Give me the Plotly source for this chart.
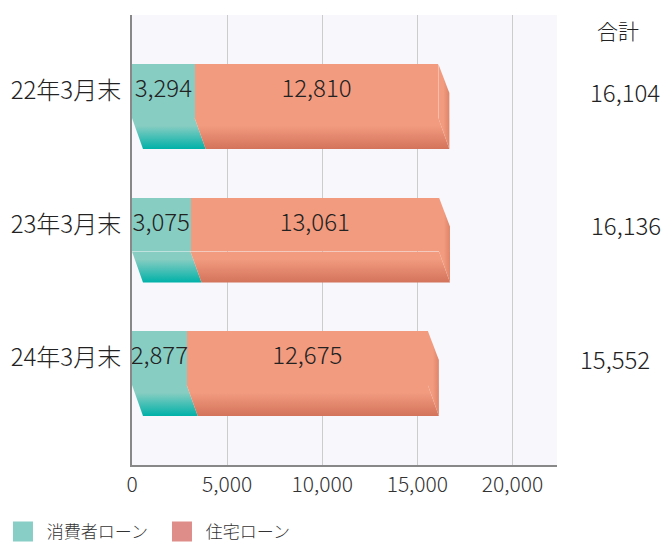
import plotly.graph_objects as go

# ---- data ----
categories = ["22年3月末", "23年3月末", "24年3月末"]
consumer = [3294, 3075, 2877]        # 消費者ローン
housing = [12810, 13061, 12675]      # 住宅ローン
totals = [16104, 16136, 15552]       # 合計
series_names = ["消費者ローン", "住宅ローン"]
x_ticks = [0, 5000, 10000, 15000, 20000]

# ---- style ----
FONT = "Noto Sans CJK JP"
W = 300
teal_face, teal_dark = "#88cdc2", "#00b1a8"
salmon_face, salmon_dark, salmon_side = "#f29b7f", "#d3735b", "#df8468"
legend_cols = ["#88cdc6", "#df8d89"]

XMAX = 22340
ypos = list(range(len(categories)))
HALF = 0.202      # half height of bar face (category units)
UNDER = 0.232     # depth of underside (category units)
SIDE_DROP = 0.217 # slant drop of right end
DX = 578          # horizontal depth offset (value units)

fig = go.Figure()

# front faces (bars)
fig.add_trace(go.Bar(y=ypos, x=consumer, base=[0] * 3, orientation="h", width=2 * HALF,
                     marker=dict(color=teal_face, line=dict(width=0)), showlegend=False,
                     hoverinfo="skip"))
fig.add_trace(go.Bar(y=ypos, x=housing, base=consumer, orientation="h", width=2 * HALF,
                     marker=dict(color=salmon_face, line=dict(width=0)), showlegend=False,
                     hoverinfo="skip"))

# 3D parts: undersides and right side faces
for i, y in enumerate(ypos):
    yt, yf, yb = y - HALF, y + HALF, y + HALF + UNDER
    segs = [(0, consumer[i], teal_face, teal_dark),
            (consumer[i], consumer[i] + housing[i], salmon_face, salmon_dark)]
    for x0, x1, c1, c2 in segs:
        fig.add_trace(go.Scatter(
            x=[x0, x1, x1 + DX, x0 + DX, x0], y=[yf, yf, yb, yb, yf],
            mode="lines", fill="toself", line=dict(width=0, color=c1),
            fillcolor=c1,
            fillgradient=dict(type="vertical", start=yf, stop=yb,
                              colorscale=[[0, c1], [0.25, c1], [1, c2]]),
            showlegend=False, hoverinfo="skip"))
    xe = consumer[i] + housing[i]
    fig.add_trace(go.Scatter(
        x=[xe, xe + DX, xe + DX, xe, xe], y=[yt, yt + SIDE_DROP, yb, yf, yt],
        mode="lines", fill="toself", line=dict(width=0, color=salmon_side),
        fillcolor=salmon_side,
        fillgradient=dict(type="horizontal", start=xe, stop=xe + DX,
                          colorscale=[[0, salmon_face], [0.45, salmon_face], [1, salmon_side]]),
        showlegend=False, hoverinfo="skip"))

# value labels
txtfont = dict(family=FONT, size=24, color="#222222", weight=W)
fig.add_trace(go.Scatter(
    x=[c / 2 for c in consumer], y=ypos, mode="text",
    text=[f"{v:,}" for v in consumer], textposition="middle center",
    textfont=txtfont, showlegend=False, hoverinfo="skip", cliponaxis=False))
fig.add_trace(go.Scatter(
    x=[c + h / 2 for c, h in zip(consumer, housing)], y=ypos, mode="text",
    text=[f"{v:,}" for v in housing], textposition="middle center",
    textfont=txtfont, showlegend=False, hoverinfo="skip", cliponaxis=False))

# legend entries
for name, col in zip(series_names, legend_cols):
    fig.add_trace(go.Scatter(
        x=[None], y=[None], mode="markers", name="\u00a0" + name,
        marker=dict(symbol="square", size=16, color=col, line=dict(width=4, color=col))))

# totals (positioned from the data, expressed as paper fraction)
for y, t in zip(ypos, totals):
    fig.add_annotation(x=(t + 11760) / XMAX, y=y, xref="paper", yref="y", text=f"{t:,}",
                       showarrow=False, xanchor="right", yanchor="middle",
                       font=txtfont)
fig.add_annotation(x=1.1447, y=0.9667, xref="paper", yref="paper", text="合計",
                   showarrow=False, xanchor="center", yanchor="middle",
                   font=dict(family=FONT, size=21, color="#222222", weight=W))

fig.update_layout(
    width=661, height=543,
    margin=dict(l=132, r=103.5, t=15, b=78),
    paper_bgcolor="white", plot_bgcolor="#f7f7fc",
    font=dict(family=FONT, color="#333333"),
    barmode="overlay", bargap=0,
    showlegend=True,
    legend=dict(orientation="h", xref="container", yref="container",
                x=0.0045, xanchor="left", y=0.0202, yanchor="middle",
                font=dict(family=FONT, size=17, color="#333333", weight=W),
                entrywidth=114, entrywidthmode="pixels", itemsizing="trace",
                bgcolor="rgba(0,0,0,0)"),
    xaxis=dict(range=[0, XMAX], tickvals=x_ticks, ticktext=[f"{v:,}" for v in x_ticks],
               showgrid=True, gridcolor="#cccccc", gridwidth=1, zeroline=False,
               showline=True, linecolor="#888888", linewidth=2, automargin=False,
               tickfont=dict(family=FONT, size=21, color="#333333", weight=W), ticks=""),
    yaxis=dict(range=[2.8015, -0.5693], tickvals=ypos, ticktext=categories,
               showgrid=False, zeroline=False, showline=True, linecolor="#888888", linewidth=2,
               automargin=False,
               tickfont=dict(family=FONT, size=24, color="#222222", weight=W), ticks="",
               ticklabelstandoff=4),
)

fig.write_html(
    "out.html",
    config={"displayModeBar": False},
    post_script="document.body.style.margin='0';"
                "document.body.style.overflow='hidden';"
                "document.documentElement.style.overflow='hidden';",
)
